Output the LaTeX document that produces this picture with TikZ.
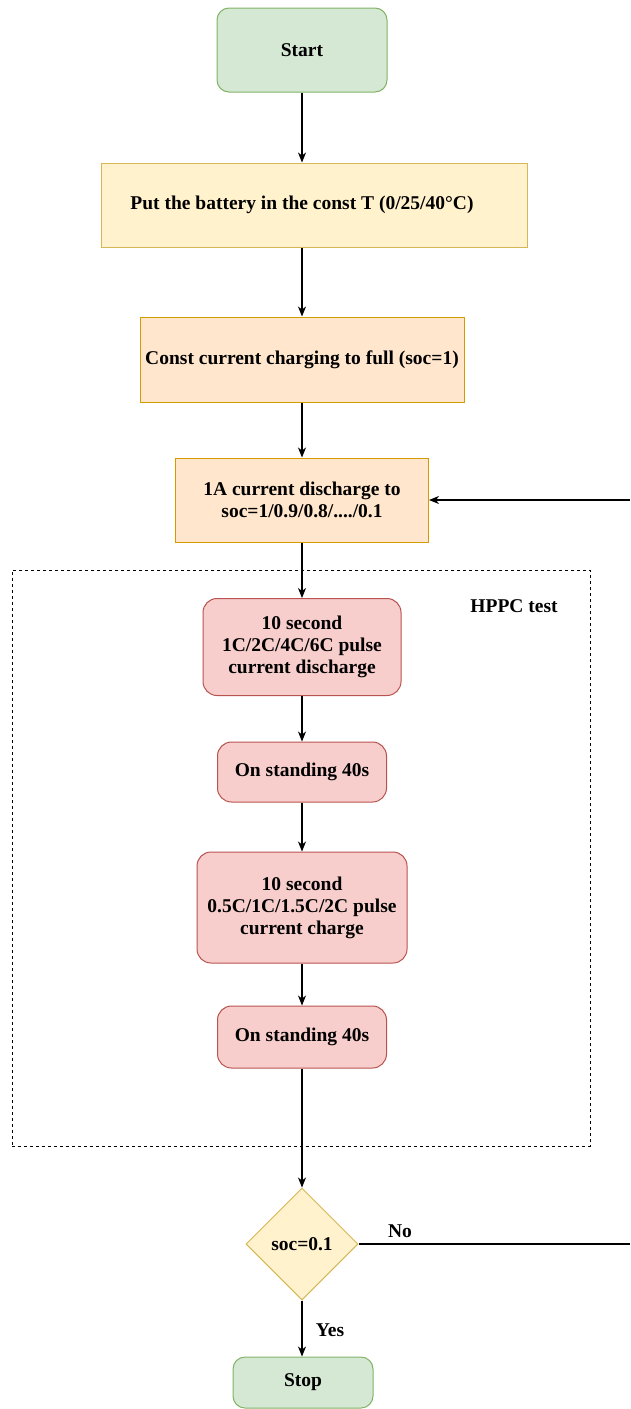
\documentclass[tikz,border=0pt]{standalone}
\usepackage{fontspec}
\setmainfont{Liberation Serif}
\usetikzlibrary{arrows.meta,shapes.geometric}
\definecolor{gfill}{HTML}{D5E8D4}\definecolor{gline}{HTML}{82B366}
\definecolor{yfill}{HTML}{FFF2CC}\definecolor{yline}{HTML}{D6B656}
\definecolor{ofill}{HTML}{FFE6CC}\definecolor{oline}{HTML}{D79B00}
\definecolor{rfill}{HTML}{F8CECC}\definecolor{rline}{HTML}{B85450}
\tikzset{
  base/.style={inner sep=0pt, line width=1pt, align=center, font=\fontsize{19.5}{22}\selectfont\bfseries},
  greenbox/.style={base, draw=gline, fill=gfill, rounded corners=12pt},
  yellowbox/.style={base, draw=yline, fill=yfill},
  orangebox/.style={base, draw=oline, fill=ofill},
  redbox/.style={base, draw=rline, fill=rfill, rounded corners=14pt},
  decision/.style={base, diamond, aspect=1, draw=yline, fill=yfill},
  arr/.style={line width=1.2pt, -{Stealth[length=10pt,width=8pt,inset=3pt]}},
  plain/.style={line width=1.2pt},
  lbl/.style={font=\fontsize{19.5}{22}\selectfont\bfseries, inner sep=0pt},
  group/.style={line width=1pt, dash pattern=on 3pt off 3pt}
}
\begin{document}
\begin{tikzpicture}[x=1pt,y=-1pt]
\path[use as bounding box, fill=white] (0,0) rectangle (630,1409);
% group
\node[group, draw, minimum width=578pt, minimum height=576pt, inner sep=0pt] (grp) at (301,858) {};
\node[lbl] (hppc) at (514,606) {HPPC test};
% nodes
\node[greenbox, minimum width=170pt, minimum height=84pt] (start) at (302,50) {Start};
\node[yellowbox, minimum width=426pt, minimum height=84pt] (b1) at (314,205) {\hspace*{-24pt}Put the battery in the const T (0/25/40°C)};
\node[orangebox, minimum width=324pt, minimum height=85pt] (b2) at (302,359.5) {Const current charging to full (soc=1)};
\node[orangebox, minimum width=253pt, minimum height=84pt] (b3) at (302,500) {1A current discharge to\\soc=1/0.9/0.8/..../0.1};
\node[redbox, minimum width=198pt, minimum height=97pt] (p1) at (302,647) {10 second\\1C/2C/4C/6C pulse\\current discharge};
\node[redbox, minimum width=169pt, minimum height=60pt] (p2) at (302,772) {On standing 40s};
\node[redbox, minimum width=210pt, minimum height=111pt] (p3) at (302,907.5) {10 second\\0.5C/1C/1.5C/2C pulse\\current charge};
\node[redbox, minimum width=169pt, minimum height=62pt] (p4) at (302,1037) {On standing 40s};
\node[decision, minimum width=112pt, minimum height=112pt] (dec) at (302,1244) {soc=0.1};
\node[greenbox, minimum width=140pt, minimum height=51pt] (stop) at (303,1382.5) {Stop};
% connectors
\draw[arr] (start.south) -- (start.south |- b1.north);
\draw[arr] (start.south |- b1.south) -- (b2.north);
\draw[arr] (b2.south) -- (b3.north);
\draw[arr] (b3.south) -- (p1.north);
\draw[arr] (p1.south) -- (p2.north);
\draw[arr] (p2.south) -- (p3.north);
\draw[arr] (p3.south) -- (p4.north);
\draw[arr] (p4.south) -- (dec.north);
\draw[arr] (dec.south) -- (dec.south |- stop.north);
\node[lbl] (yes) at (330,1330) {Yes};
\coordinate (noend) at (630,1244);
\draw[plain] (dec.east) -- (noend);
\node[lbl] (no) at (400,1231) {No};
\coordinate (loopin) at (630,500);
\draw[arr] (loopin) -- (b3.east);
\end{tikzpicture}
\end{document}
